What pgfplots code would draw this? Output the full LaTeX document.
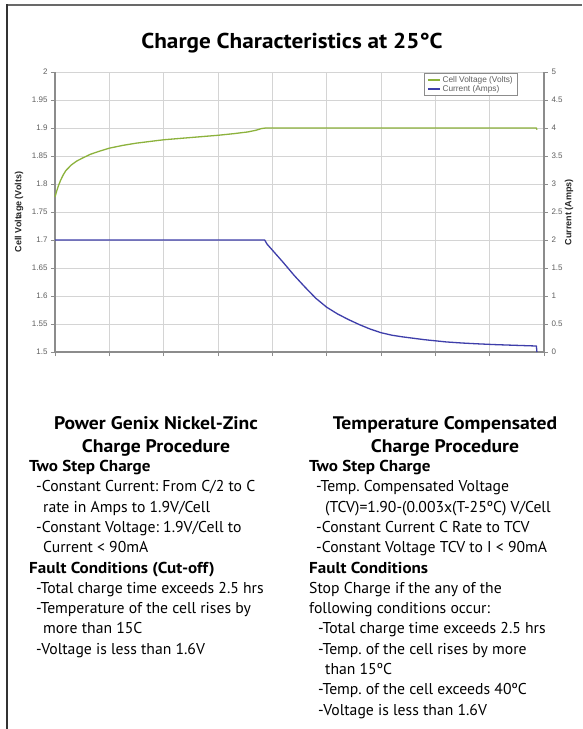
\documentclass[border=0pt]{standalone}
\usepackage{pgfplots}
\pgfplotsset{compat=1.18}
\usepackage{fontspec}
\setmainfont{PT Sans}
\newfontfamily\arial{Liberation Sans}
\newfontfamily\headfont[FakeStretch=1.08]{PT Sans Bold}
\definecolor{vgreen}{RGB}{140,178,60}
\definecolor{iblue}{RGB}{62,62,170}
\definecolor{gridc}{RGB}{212,212,212}
\definecolor{axc}{RGB}{140,140,140}
\definecolor{tickc}{RGB}{95,95,95}
\definecolor{framec}{RGB}{105,105,105}

\pgfplotstableread{
x v
0 1.777
0.03 1.787
0.06 1.796
0.1 1.806
0.15 1.816
0.2 1.824
0.3 1.834
0.4 1.841
0.5 1.846
0.65 1.853
0.8 1.858
1.0 1.864
1.25 1.869
1.5 1.873
1.75 1.876
2.0 1.879
2.5 1.883
3.0 1.887
3.3 1.890
3.55 1.893
3.7 1.896
3.8 1.899
3.88 1.900
8.86 1.900
8.87 1.897
}\voltdata

\pgfplotstableread{
x i
0 2
3.86 2
3.90 1.93
4.0 1.82
4.2 1.60
4.4 1.37
4.6 1.16
4.8 0.96
5.0 0.80
5.2 0.68
5.4 0.58
5.6 0.49
5.8 0.41
6.0 0.345
6.2 0.30
6.4 0.27
6.6 0.245
6.8 0.22
7.0 0.20
7.2 0.18
7.5 0.16
7.8 0.145
8.1 0.132
8.4 0.122
8.7 0.112
8.86 0.107
8.87 0
}\curdata

\begin{document}
\frenchspacing
\begin{tikzpicture}[x=1pt,y=1pt]
\useasboundingbox (0,0) rectangle (582,-729);
\fill[white] (0,0) rectangle (582,-729);
\draw[line width=2pt, framec] (6,-5) -- (582,-5);
\draw[line width=1.5pt, black!80] (7,-4) -- (7,-729);

\node[font=\headfont\fontsize{21.5}{21.5}\selectfont, inner sep=0pt] at (292,-43) {Charge Characteristics at 25°C};

\begin{axis}[
  at={(55pt,-352pt)}, anchor=south west, scale only axis,
  width=489pt, height=280pt,
  xmin=0, xmax=9, ymin=1.5, ymax=2,
  axis x line*=bottom, axis y line*=left,
  x axis line style={-}, y axis line style={-},
  axis line style={axc, line width=1.2pt},
  xtick={0,1,2,3,4,5,6,7,8,9}, xticklabels={},
  ytick={1.5,1.55,1.6,1.65,1.7,1.75,1.8,1.85,1.9,1.95,2},
  grid=major, major grid style={gridc, line width=0.9pt},
  tick align=outside, major tick length=4pt,
  tick style={axc, line width=0.8pt},
  yticklabel style={font=\arial\fontsize{8}{8}\selectfont, text=tickc},
  /pgf/number format/assume math mode=true,
  /pgf/number format/fixed,
  clip=false,
]
\addplot[vgreen, line width=1.3pt, no markers, line join=round] table[x=x, y=v] {\voltdata};
\end{axis}

\begin{axis}[
  at={(55pt,-352pt)}, anchor=south west, scale only axis,
  width=489pt, height=280pt,
  xmin=0, xmax=9, ymin=0, ymax=5,
  axis y line*=right, axis x line=none,
  y axis line style={-},
  axis line style={axc, line width=1.2pt},
  ytick={0,0.5,1,1.5,2,2.5,3,3.5,4,4.5,5},
  tick align=outside, major tick length=4pt,
  tick style={axc, line width=0.8pt},
  yticklabel style={font=\arial\fontsize{8}{8}\selectfont, text=tickc},
  /pgf/number format/assume math mode=true,
  /pgf/number format/fixed,
  legend style={at={(rel axis cs:0.947,0.997)}, anchor=north east,
    font=\arial\fontsize{8.3}{8.3}\selectfont, text=tickc, draw=axc,
    line width=0.7pt, inner xsep=3pt, inner ysep=1pt, row sep=-2.5pt, fill=white},
  legend cell align=left,
  legend image code/.code={\draw[#1] (0pt,0pt) -- (12pt,0pt);},
]
\addlegendimage{vgreen, line width=1.2pt}
\addlegendentry{Cell Voltage (Volts)}
\addplot[iblue, line width=1.3pt, no markers, line join=round] table[x=x, y=i] {\curdata};
\addlegendentry{Current (Amps)}
\end{axis}

\node[rotate=90, font=\arial\bfseries\fontsize{9}{9}\selectfont, text=black!85] at (19,-212) {Cell Voltage (Volts)};
\node[rotate=90, font=\arial\bfseries\fontsize{9}{9}\selectfont, text=black!85] at (569,-212) {Current (Amps)};

\begin{scope}[every node/.style={inner sep=0pt, font=\fontsize{15.7}{15.7}\selectfont}]
\node[anchor=mid, font=\headfont\fontsize{18.2}{18.2}\selectfont] at (156,-427) {Power Genix Nickel-Zinc};
\node[anchor=mid, font=\headfont\fontsize{18.2}{18.2}\selectfont] at (156,-450) {Charge Procedure};
\node[anchor=mid, font=\headfont\fontsize{18.2}{18.2}\selectfont] at (445,-427) {Temperature Compensated};
\node[anchor=mid, font=\headfont\fontsize{18.2}{18.2}\selectfont] at (445,-450) {Charge Procedure};

\node[anchor=mid west, font=\headfont\fontsize{15.8}{15.8}\selectfont] at (29,-469) {Two Step Charge};
\node[anchor=mid west] at (36,-489.3) {-Constant Current: From C/2 to C};
\node[anchor=mid west] at (43,-509.6) {rate in Amps to 1.9V/Cell};
\node[anchor=mid west] at (36,-529.9) {-Constant Voltage: 1.9V/Cell to};
\node[anchor=mid west] at (43,-550.2) {Current < 90mA};
\node[anchor=mid west, font=\headfont\fontsize{15.8}{15.8}\selectfont] at (29,-570.5) {Fault Conditions (Cut-off)};
\node[anchor=mid west] at (36,-590.8) {-Total charge time exceeds 2.5 hrs};
\node[anchor=mid west] at (36,-611.1) {-Temperature of the cell rises by};
\node[anchor=mid west] at (43,-631.4) {more than 15C};
\node[anchor=mid west] at (36,-651.7) {-Voltage is less than 1.6V};

\node[anchor=mid west, font=\headfont\fontsize{15.8}{15.8}\selectfont] at (309,-469) {Two Step Charge};
\node[anchor=mid west] at (316,-489.3) {-Temp. Compensated Voltage};
\node[anchor=mid west] at (325,-509.6) {(TCV)=1.90-(0.003x(T-25ºC) V/Cell};
\node[anchor=mid west] at (316,-529.9) {-Constant Current C Rate to TCV};
\node[anchor=mid west] at (316,-550.2) {-Constant Voltage TCV to I < 90mA};
\node[anchor=mid west, font=\headfont\fontsize{15.8}{15.8}\selectfont] at (309,-570.5) {Fault Conditions};
\node[anchor=mid west] at (309,-590.8) {Stop Charge if the any of the};
\node[anchor=mid west] at (309,-611.1) {following conditions occur:};
\node[anchor=mid west] at (318,-631.4) {-Total charge time exceeds 2.5 hrs};
\node[anchor=mid west] at (318,-651.7) {-Temp. of the cell rises by more};
\node[anchor=mid west] at (325,-672) {than 15ºC};
\node[anchor=mid west] at (318,-692.3) {-Temp. of the cell exceeds 40ºC};
\node[anchor=mid west] at (318,-712.6) {-Voltage is less than 1.6V};
\end{scope}
\end{tikzpicture}
\end{document}
